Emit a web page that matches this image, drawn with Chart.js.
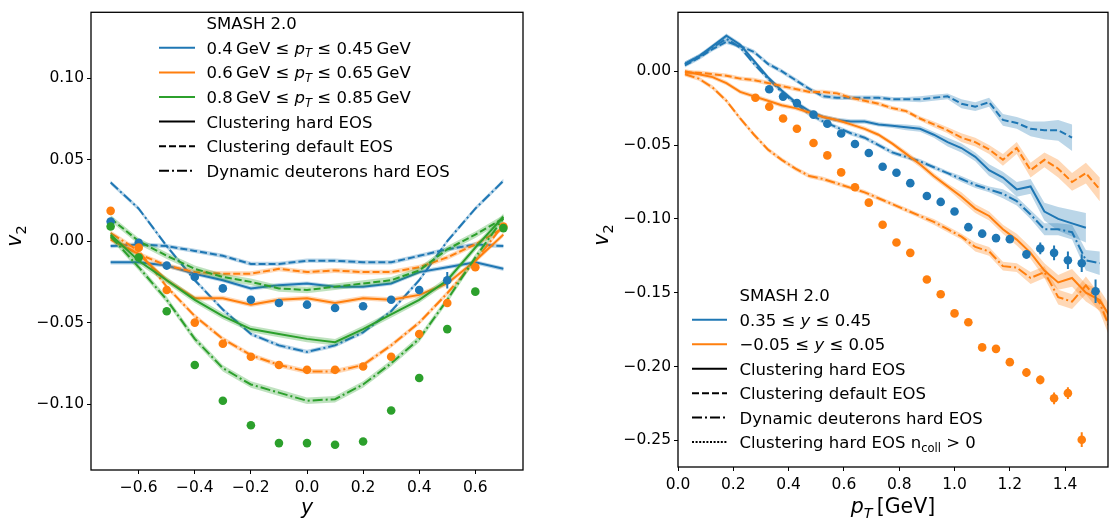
<!DOCTYPE html>
<html><head><meta charset="utf-8">
<script src="https://cdn.jsdelivr.net/npm/chart.js@4/dist/chart.umd.min.js"></script>
<style>
html,body{margin:0;padding:0;background:#fff;width:1119px;height:524px;overflow:hidden}
#c1{position:absolute;left:0;top:0}
#c2{position:absolute;left:590px;top:0}
</style></head><body>
<canvas id="c1" width="530" height="524"></canvas>
<canvas id="c2" width="529" height="524"></canvas>
<script>
// ---------------- DATA: left panel (v2 vs rapidity y) ----------------
const rapidity = [-0.7,-0.6,-0.5,-0.4,-0.3,-0.2,-0.1,0.0,0.1,0.2,0.3,0.4,0.5,0.6,0.7];
const leftXTicks = [-0.6,-0.4,-0.2,0.0,0.2,0.4,0.6];
const leftYTicks = [-0.10,-0.05,0.00,0.05,0.10];

const blueHardL     = [-0.013,-0.013,-0.015,-0.020,-0.024,-0.029,-0.027,-0.026,-0.028,-0.028,-0.026,-0.019,-0.016,-0.013,-0.017];
const blueDefaultL  = [-0.003,-0.002,-0.003,-0.006,-0.009,-0.014,-0.014,-0.012,-0.012,-0.013,-0.013,-0.009,-0.005,-0.002,-0.003];
const blueDynL      = [0.036,0.020,-0.003,-0.024,-0.042,-0.057,-0.064,-0.068,-0.064,-0.056,-0.043,-0.024,0.000,0.020,0.037];
const orangeHardL   = [0.001,-0.008,-0.024,-0.035,-0.035,-0.039,-0.036,-0.035,-0.038,-0.035,-0.036,-0.033,-0.026,-0.012,0.004];
const orangeDefaultL= [0.002,-0.008,-0.015,-0.019,-0.020,-0.020,-0.017,-0.019,-0.018,-0.019,-0.019,-0.016,-0.010,-0.002,0.008];
const orangeDynL    = [0.005,-0.006,-0.028,-0.046,-0.060,-0.070,-0.076,-0.080,-0.080,-0.076,-0.064,-0.050,-0.032,-0.012,0.010];
const greenHardL    = [0.004,-0.012,-0.024,-0.036,-0.046,-0.054,-0.057,-0.060,-0.062,-0.054,-0.045,-0.036,-0.024,-0.004,0.015];
const greenDefaultL = [0.014,0.000,-0.009,-0.017,-0.022,-0.025,-0.029,-0.030,-0.028,-0.026,-0.024,-0.018,-0.005,0.004,0.014];
const greenDynL     = [0.003,-0.016,-0.036,-0.060,-0.078,-0.088,-0.093,-0.098,-0.097,-0.088,-0.075,-0.060,-0.036,-0.010,0.014];

const blueDotsL   = [0.012,-0.001,-0.015,-0.022,-0.029,-0.036,-0.038,-0.039,-0.041,-0.040,-0.036,-0.030,-0.024,null,null];
const blueDotsLErr= [0,0,0,0,0,0,0,0,0,0,0,0,0.005,0,0];
const orangeDotsL = [0.0186,-0.004,-0.030,-0.050,-0.063,-0.071,-0.076,-0.079,-0.079,-0.077,-0.071,-0.057,-0.038,-0.016,0.009];
const greenDotsL  = [0.009,-0.010,-0.043,-0.076,-0.098,-0.113,-0.124,-0.124,-0.125,-0.123,-0.104,-0.084,-0.054,-0.031,0.008];

// ---------------- DATA: right panel (v2 vs pT) ----------------
const ptLine = [0.025,0.075,0.125,0.175,0.225,0.275,0.325,0.375,0.425,0.475,0.525,0.575,0.625,0.675,0.725,0.775,
                0.825,0.875,0.925,0.975,1.025,1.075,1.125,1.175,1.225,1.275,1.325,1.375,1.425,1.475,1.525,1.575];
const rightXTicks = [0.0,0.2,0.4,0.6,0.8,1.0,1.2,1.4];
const rightYTicks = [-0.25,-0.20,-0.15,-0.10,-0.05,0.00];

const blueHardR = [0.005,0.010,0.017,0.024,0.018,0.007,-0.004,-0.013,-0.021,-0.027,-0.031,-0.033,-0.034,-0.034,-0.036,-0.037,
                   -0.038,-0.039,-0.043,-0.048,-0.052,-0.058,-0.067,-0.072,-0.080,-0.078,-0.095,-0.100,-0.103,-0.106];
const blueHardRErr = [0.0015,0.0015,0.0015,0.0015,0.0015,0.0015,0.0015,0.0015,0.0015,0.0015,0.0015,0.0015,0.0015,0.0015,0.0015,0.0015,
                      0.002,0.002,0.002,0.003,0.003,0.003,0.004,0.004,0.005,0.005,0.006,0.008,0.009,0.010];
const blueDefaultR = [0.004,0.009,0.015,0.020,0.017,0.013,0.005,0.000,-0.006,-0.012,-0.017,-0.018,-0.018,-0.018,-0.018,-0.019,
                      -0.019,-0.019,-0.018,-0.017,-0.022,-0.024,-0.021,-0.033,-0.035,-0.039,-0.040,-0.040,-0.045];
const blueDefaultRErr = [0.0015,0.0015,0.0015,0.0015,0.0015,0.0015,0.0015,0.0015,0.0015,0.0015,0.0015,0.0015,0.0015,0.0015,0.0015,0.0015,0.0015,
                         0.002,0.002,0.002,0.003,0.003,0.003,0.004,0.004,0.005,0.006,0.007,0.009];
const blueDynR = [0.005,0.010,0.016,0.022,0.016,0.005,-0.005,-0.014,-0.022,-0.029,-0.034,-0.038,-0.042,-0.045,-0.050,-0.055,
                  -0.058,-0.061,-0.065,-0.069,-0.073,-0.077,-0.080,-0.083,-0.088,-0.097,-0.107,-0.107,-0.109,-0.128,-0.130];
const blueDynRErr = [0.0015,0.0015,0.0015,0.0015,0.0015,0.0015,0.0015,0.0015,0.0015,0.0015,0.0015,0.0015,0.0015,0.0015,0.0015,0.0015,
                     0.0015,0.0015,0.0015,0.0015,0.002,0.002,0.002,0.003,0.003,0.003,0.004,0.004,0.005,0.007,0.008];
const orangeHardR = [0.000,-0.002,-0.004,-0.008,-0.014,-0.017,-0.020,-0.023,-0.025,-0.028,-0.031,-0.033,-0.036,-0.039,-0.043,-0.049,
                     -0.056,-0.063,-0.071,-0.078,-0.085,-0.093,-0.098,-0.107,-0.114,-0.123,-0.135,-0.143,-0.140,-0.150,-0.155,-0.170];
const orangeHardRErr = [0.0015,0.0015,0.0015,0.0015,0.0015,0.0015,0.0015,0.0015,0.0015,0.0015,0.0015,0.0015,0.0015,0.0015,0.0015,0.0015,
                        0.002,0.002,0.002,0.002,0.003,0.003,0.003,0.003,0.004,0.004,0.005,0.005,0.006,0.006,0.007,0.008];
const orangeDefaultR = [-0.001,-0.001,-0.002,-0.003,-0.005,-0.006,-0.008,-0.010,-0.012,-0.014,-0.014,-0.015,-0.018,-0.020,-0.022,-0.025,
                        -0.027,-0.032,-0.036,-0.040,-0.045,-0.048,-0.053,-0.060,-0.052,-0.067,-0.060,-0.066,-0.075,-0.069,-0.080];
const orangeDefaultRErr = [0.0015,0.0015,0.0015,0.0015,0.0015,0.0015,0.0015,0.0015,0.0015,0.0015,0.0015,0.0015,0.0015,0.0015,0.0015,0.0015,0.0015,0.0015,
                           0.002,0.002,0.003,0.003,0.003,0.004,0.004,0.005,0.005,0.006,0.006,0.007,0.008];
const orangeDynR = [-0.002,-0.005,-0.011,-0.020,-0.032,-0.043,-0.053,-0.060,-0.066,-0.071,-0.073,-0.076,-0.079,-0.082,-0.086,-0.090,
                    -0.094,-0.098,-0.102,-0.107,-0.112,-0.119,-0.122,-0.132,-0.133,-0.140,-0.136,-0.153,-0.156,-0.145,-0.157,-0.180];
const orangeDynRErr = [0.0015,0.0015,0.0015,0.0015,0.0015,0.0015,0.0015,0.0015,0.0015,0.0015,0.0015,0.0015,0.0015,0.0015,0.0015,0.0015,0.0015,0.0015,
                       0.002,0.002,0.002,0.003,0.003,0.003,0.003,0.004,0.004,0.005,0.005,0.006,0.006,0.007];

const ptDots = [0.28,0.33,0.38,0.43,0.49,0.54,0.59,0.64,0.69,0.74,0.79,0.84,0.90,0.95,1.00,1.05,1.10,1.15,1.20,1.26,1.31,1.36,1.41,1.46,1.51];
const orangeDotsR = [-0.018,-0.024,-0.032,-0.039,-0.0486,-0.057,-0.0685,-0.0786,-0.089,-0.104,-0.116,-0.123,-0.141,-0.151,-0.164,-0.170,
                     -0.187,-0.188,-0.197,-0.204,-0.209,-0.2215,-0.218,-0.2495];
const orangeDotsRErr = [0,0,0,0,0,0,0,0,0,0,0,0,0,0,0,0,0,0,0.002,0.003,0.003,0.004,0.004,0.005];
const blueDotsR = [-0.0122,-0.0172,-0.0216,-0.0294,-0.0356,-0.0422,-0.0493,-0.0554,-0.0647,-0.0687,-0.0758,-0.0845,-0.0885,-0.095,
                   -0.1056,-0.110,-0.113,-0.1137,-0.124,-0.120,-0.123,-0.128,-0.130,-0.149];
const blueDotsRErr = [0,0,0,0,0,0,0,0,0,0,0,0,0,0,0,0,0,0.002,0.003,0.004,0.005,0.006,0.006,0.008];

// ---------------- helpers ----------------
const FAM = '"DejaVu Sans", sans-serif';
const COL = {blue:'#1f77b4', orange:'#ff7f0e', green:'#2ca02c'};
const BAND = {blue:'rgba(31,119,180,0.3)', orange:'rgba(255,127,14,0.3)', green:'rgba(44,160,44,0.3)'};
const DASH = {solid:[], dashed:[7,3], dashdot:[10,3,2,3], dotted:[2,1.6]};

function pts(xs, ys){ const o=[]; ys.forEach((y,i)=>{ if(y!==null) o.push({x:xs[i], y:y}); }); return o; }
function lineDS(xs, ys, c, style, band){
  return {data:pts(xs,ys), borderColor:COL[c], borderWidth:2, borderDash:DASH[style], pointRadius:0,
          fill:false, tension:0, showLine:true, band:band, bandColor:BAND[c]};
}
function dotDS(xs, ys, c, err){
  const d = pts(xs, ys);
  return {data:d, showLine:false, pointRadius:4.3, pointHoverRadius:4.3, pointBackgroundColor:COL[c],
          pointBorderWidth:0, borderColor:COL[c], yerr: err ? ys.map((y,i)=>err[i]).filter((e,i)=>ys[i]!==null) : null};
}
function fmt(v,d){ return v.toFixed(d).replace('-', '\u2212'); }
function fontFor(s,size){ return (s.it?'italic ':'') + (s.sub ? size*0.7 : size) + 'px ' + FAM; }
function richWidth(ctx, segs, size){ let w=0; segs.forEach(s=>{ctx.font=fontFor(s,size); w+=ctx.measureText(s.t).width;}); return w; }
function drawRich(ctx, x, base, segs, size, align){
  let cx = align==='center' ? x - richWidth(ctx,segs,size)/2 : x;
  ctx.textAlign='left'; ctx.textBaseline='alphabetic'; ctx.fillStyle='#000';
  segs.forEach(s=>{ ctx.font=fontFor(s,size); ctx.fillText(s.t, cx, base + (s.sub? size*0.22:0)); cx += ctx.measureText(s.t).width; });
}

const decorPlugin = {
  id:'decor',
  beforeDatasetDraw(chart, args){
    const ds = chart.data.datasets[args.index];
    const xs = chart.scales.x, ys = chart.scales.y, ctx = chart.ctx, ca = chart.chartArea;
    ctx.save();
    ctx.beginPath(); ctx.rect(ca.left, ca.top, ca.right-ca.left, ca.bottom-ca.top); ctx.clip();
    if (ds.band !== undefined && ds.band !== null){
      const d = ds.data, e = ds.band;
      const ev = i => Array.isArray(e) ? e[i] : e;
      ctx.beginPath();
      for (let i=0;i<d.length;i++) ctx.lineTo(xs.getPixelForValue(d[i].x), ys.getPixelForValue(d[i].y + ev(i)));
      for (let i=d.length-1;i>=0;i--) ctx.lineTo(xs.getPixelForValue(d[i].x), ys.getPixelForValue(d[i].y - ev(i)));
      ctx.closePath(); ctx.fillStyle = ds.bandColor; ctx.fill();
    }
    if (ds.yerr){
      ctx.strokeStyle = ds.borderColor; ctx.lineWidth = 2; ctx.setLineDash([]);
      ds.data.forEach((p,i)=>{ const e = ds.yerr[i]; if(!e) return;
        const px = xs.getPixelForValue(p.x);
        ctx.beginPath(); ctx.moveTo(px, ys.getPixelForValue(p.y+e)); ctx.lineTo(px, ys.getPixelForValue(p.y-e)); ctx.stroke(); });
    }
    ctx.restore();
  },
  afterDraw(chart){
    const o = chart.options.plugins.decor, ctx = chart.ctx, ca = chart.chartArea;
    ctx.save();
    ctx.strokeStyle = '#000'; ctx.lineWidth = 1.3; ctx.setLineDash([]);
    ctx.strokeRect(ca.left, ca.top, ca.right-ca.left, ca.bottom-ca.top);
    drawRich(ctx, o.xTitle.x, o.xTitle.base, o.xTitle.segs, 20.5, 'center');
    ctx.save(); ctx.translate(o.yTitle.base, o.yTitle.y); ctx.rotate(-Math.PI/2);
    drawRich(ctx, 0, 0, [{t:'v', it:true},{t:'2', sub:true}], 20.5, 'center');
    ctx.restore();
    const L = o.legend;
    drawRich(ctx, L.textX, L.titleY + 6, [{t:'SMASH 2.0'}], 16.5, 'left');
    L.rows.forEach((r,k)=>{
      const y = L.y0 + k*L.dy;
      ctx.beginPath(); ctx.setLineDash(DASH[r.style]); ctx.lineWidth = 2; ctx.strokeStyle = r.color;
      ctx.moveTo(L.x1, y); ctx.lineTo(L.x2, y); ctx.stroke(); ctx.setLineDash([]);
      drawRich(ctx, L.textX, y + 6, r.segs, 16.5, 'left');
    });
    ctx.restore();
  }
};

function makeChart(id, datasets, cfg){
  const tickFont = {family:FAM, size:15.5};
  return new Chart(document.getElementById(id), {
    type:'line',
    data:{datasets:datasets},
    plugins:[decorPlugin],
    options:{
      responsive:false, animation:false, devicePixelRatio:1, events:[],
      layout:{padding:{top:cfg.top, right:cfg.right, left:0, bottom:0}},
      plugins:{legend:{display:false}, tooltip:{enabled:false}, decor:cfg.decor},
      scales:{
        x:{type:'linear', min:cfg.xmin, max:cfg.xmax,
           afterBuildTicks:s=>{ s.ticks = cfg.xticks.map(v=>({value:v})); },
           afterFit:s=>{ s.height = cfg.xh; },
           ticks:{callback:v=>fmt(v,cfg.xdec), font:tickFont, color:'#000', padding:4.5, maxRotation:0, autoSkip:false},
           grid:{drawOnChartArea:false, drawTicks:true, tickLength:4, color:'#000', lineWidth:1},
           border:{display:false}},
        y:{type:'linear', min:cfg.ymin, max:cfg.ymax,
           afterBuildTicks:s=>{ s.ticks = cfg.yticks.map(v=>({value:v})); },
           afterFit:s=>{ s.width = cfg.yw; },
           ticks:{callback:v=>fmt(v,2), font:tickFont, color:'#000', padding:3, autoSkip:false},
           grid:{drawOnChartArea:false, drawTicks:true, tickLength:4, color:'#000', lineWidth:1},
           border:{display:false}}
      }
    }
  });
}

const PT = [{t:'p', it:true},{t:'T', it:true, sub:true}];

makeChart('c1', [
  dotDS(rapidity, greenDotsL, 'green'),
  dotDS(rapidity, orangeDotsL, 'orange'),
  dotDS(rapidity, blueDotsL, 'blue', blueDotsLErr),
  lineDS(rapidity, greenDynL, 'green', 'dashdot', 0.002),
  lineDS(rapidity, greenDefaultL, 'green', 'dashed', 0.002),
  lineDS(rapidity, greenHardL, 'green', 'solid', 0.002),
  lineDS(rapidity, orangeDynL, 'orange', 'dashdot', 0.0015),
  lineDS(rapidity, orangeDefaultL, 'orange', 'dashed', 0.0015),
  lineDS(rapidity, orangeHardL, 'orange', 'solid', 0.0015),
  lineDS(rapidity, blueDynL, 'blue', 'dashdot', 0.0013),
  lineDS(rapidity, blueDefaultL, 'blue', 'dashed', 0.0013),
  lineDS(rapidity, blueHardL, 'blue', 'solid', 0.0013)
], {
  top:2, right:7, xh:54, yw:91, xmin:-0.77, xmax:0.77, ymin:-0.1405, ymax:0.1405,
  xticks:leftXTicks, yticks:leftYTicks, xdec:1,
  decor:{
    xTitle:{x:307, base:514, segs:[{t:'y', it:true}]},
    yTitle:{base:21, y:236},
    legend:{textX:206.5, titleY:23.3, x1:159, x2:195, y0:47.8, dy:24.6, rows:[
      {color:COL.blue, style:'solid', segs:[{t:'0.4\u2009GeV \u2264 '}, ...PT, {t:' \u2264 0.45\u2009GeV'}]},
      {color:COL.orange, style:'solid', segs:[{t:'0.6\u2009GeV \u2264 '}, ...PT, {t:' \u2264 0.65\u2009GeV'}]},
      {color:COL.green, style:'solid', segs:[{t:'0.8\u2009GeV \u2264 '}, ...PT, {t:' \u2264 0.85\u2009GeV'}]},
      {color:'#000', style:'solid', segs:[{t:'Clustering hard EOS'}]},
      {color:'#000', style:'dashed', segs:[{t:'Clustering default EOS'}]},
      {color:'#000', style:'dashdot', segs:[{t:'Dynamic deuterons hard EOS'}]}
    ]}
  }
});

makeChart('c2', [
  dotDS(ptDots.slice(1), blueDotsR, 'blue', blueDotsRErr),
  dotDS(ptDots, orangeDotsR, 'orange', orangeDotsRErr),
  lineDS(ptLine, orangeDynR, 'orange', 'dashdot', orangeDynRErr),
  lineDS(ptLine, orangeDefaultR, 'orange', 'dashed', orangeDefaultRErr),
  lineDS(ptLine, orangeHardR, 'orange', 'solid', orangeHardRErr),
  lineDS(ptLine, blueDynR, 'blue', 'dashdot', blueDynRErr),
  lineDS(ptLine, blueDefaultR, 'blue', 'dashed', blueDefaultRErr),
  lineDS(ptLine, blueHardR, 'blue', 'solid', blueHardRErr)
], {
  top:2, right:11, xh:57, yw:88, xmin:0, xmax:1.555, ymin:-0.268, ymax:0.0399,
  xticks:rightXTicks, yticks:rightYTicks, xdec:1,
  decor:{
    xTitle:{x:303, base:513, segs:[...PT, {t:'\u2009[GeV]'}]},
    yTitle:{base:18, y:235},
    legend:{textX:149.5, titleY:295.3, x1:102, x2:137, y0:319.8, dy:24.45, rows:[
      {color:COL.blue, style:'solid', segs:[{t:'0.35 \u2264 '},{t:'y', it:true},{t:' \u2264 0.45'}]},
      {color:COL.orange, style:'solid', segs:[{t:'\u22120.05 \u2264 '},{t:'y', it:true},{t:' \u2264 0.05'}]},
      {color:'#000', style:'solid', segs:[{t:'Clustering hard EOS'}]},
      {color:'#000', style:'dashed', segs:[{t:'Clustering default EOS'}]},
      {color:'#000', style:'dashdot', segs:[{t:'Dynamic deuterons hard EOS'}]},
      {color:'#000', style:'dotted', segs:[{t:'Clustering hard EOS n'},{t:'coll', sub:true},{t:' > 0'}]}
    ]}
  }
});
</script>
</body></html>
